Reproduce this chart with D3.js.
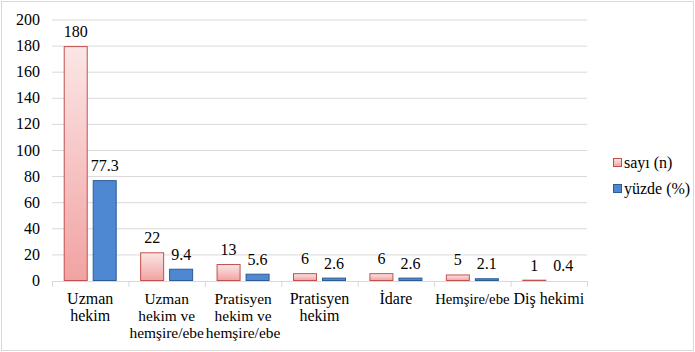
<!DOCTYPE html>
<html>
<head>
<meta charset="utf-8">
<script src="https://cdn.jsdelivr.net/npm/d3@7"></script>
</head>
<body style="margin:0">
<svg id="fig" width="695" height="352" font-family="Times New Roman" font-size="16"></svg>
<script>
// Categories (multi-line labels are split with "\n")
const categories = [
  "Uzman\nhekim",
  "Uzman\nhekim ve\nhemşire/ebe",
  "Pratisyen\nhekim ve\nhemşire/ebe",
  "Pratisyen\nhekim",
  "İdare",
  "Hemşire/ebe",
  "Diş hekimi"
];
const sayiValues = [180, 22, 13, 6, 6, 5, 1];
const yuzdeValues = [77.3, 9.4, 5.6, 2.6, 2.6, 2.1, 0.4];
const seriesNames = ["sayı (n)", "yüzde (%)"];
const yTicks = [0, 20, 40, 60, 80, 100, 120, 140, 160, 180, 200];

const svg = d3.select("#fig").style("display", "block");
const W = 695, H = 352;
const margin = { left: 52, top: 20 };
const plotRight = 587;

function styleText(sel) {
  return sel
    .attr("font-family", "Times New Roman")
    .attr("font-size", 16)
    .attr("fill", "#000");
}

// outer frame
svg.append("rect")
  .attr("x", 1.5).attr("y", 1.5)
  .attr("width", W - 3).attr("height", H - 3)
  .attr("fill", "#fff").attr("stroke", "#d9d9d9");

const defs = svg.append("defs");
const grad = defs.append("linearGradient")
  .attr("id", "pinkGrad").attr("x1", 0).attr("y1", 0).attr("x2", 0).attr("y2", 1);
grad.append("stop").attr("offset", "0%").attr("stop-color", "#fbe6e6");
grad.append("stop").attr("offset", "100%").attr("stop-color", "#f1a3a2");

const x = d3.scaleBand()
  .domain(d3.range(categories.length))
  .range([margin.left, plotRight]);
const y = d3.scaleLinear().domain([0, 200]).range([281, 20]);

// gridlines
svg.append("g").selectAll("line")
  .data(yTicks.filter(t => t > 0))
  .join("line")
  .attr("x1", margin.left).attr("x2", plotRight)
  .attr("y1", d => y(d)).attr("y2", d => y(d))
  .attr("stroke", "#d9d9d9").attr("stroke-width", 1);

// y tick labels
svg.append("g").selectAll("text")
  .data(yTicks)
  .join("text")
  .attr("x", 40).attr("y", d => y(d) + 5)
  .attr("text-anchor", "end")
  .call(styleText)
  .text(d => d);

// x baseline and category separators
svg.append("line")
  .attr("x1", margin.left).attr("x2", plotRight)
  .attr("y1", y(0) + 0.5).attr("y2", y(0) + 0.5)
  .attr("stroke", "#d9d9d9");
svg.append("g").selectAll("line")
  .data(d3.range(categories.length + 1))
  .join("line")
  .attr("x1", i => margin.left + i * x.bandwidth() + 0.5)
  .attr("x2", i => margin.left + i * x.bandwidth() + 0.5)
  .attr("y1", y(0)).attr("y2", y(0) + 6)
  .attr("stroke", "#d9d9d9");

const barW = 24, gap = 5;
const inner = d3.scaleBand().domain([0, 1]).range([0, barW * 2 + gap]).paddingInner(gap / (barW + gap));
const offset = (x.bandwidth() - (barW * 2 + gap)) / 2;

const bars = svg.append("g");
bars.selectAll("rect.sayi")
  .data(sayiValues)
  .join("rect")
  .attr("class", "sayi")
  .attr("x", (d, i) => x(i) + offset + inner(0) + 0.5)
  .attr("y", d => y(d) + 0.5)
  .attr("width", inner.bandwidth() - 1)
  .attr("height", d => Math.max(0, y(0) - y(d) - 1))
  .attr("fill", "url(#pinkGrad)")
  .attr("stroke", "#c0504d").attr("stroke-width", 1);

bars.selectAll("rect.yuzde")
  .data(yuzdeValues)
  .join("rect")
  .attr("class", "yuzde")
  .attr("x", (d, i) => x(i) + offset + inner(1) + 0.5)
  .attr("y", d => y(d) + 0.5)
  .attr("width", inner.bandwidth() - 1)
  .attr("height", d => Math.max(0, y(0) - y(d) - 1))
  .attr("fill", "#4f88d2")
  .attr("stroke", "#2d5b96").attr("stroke-width", 1);

// value labels
svg.append("g").selectAll("text")
  .data(sayiValues)
  .join("text")
  .attr("x", (d, i) => x(i) + offset + inner(0) + inner.bandwidth() / 2)
  .attr("y", d => y(d) - 9)
  .attr("text-anchor", "middle")
  .call(styleText)
  .text(d => d);
svg.append("g").selectAll("text")
  .data(yuzdeValues)
  .join("text")
  .attr("x", (d, i) => x(i) + offset + inner(1) + inner.bandwidth() / 2)
  .attr("y", d => y(d) - 9)
  .attr("text-anchor", "middle")
  .call(styleText)
  .text(d => d.toFixed(1));

// category labels
const catG = svg.append("g");
categories.forEach((c, i) => {
  const t = catG.append("text")
    .attr("x", x(i) + x.bandwidth() / 2)
    .attr("y", 304)
    .attr("text-anchor", "middle")
    .call(styleText);
  c.split("\n").forEach((line, j) => {
    t.append("tspan")
      .attr("x", x(i) + x.bandwidth() / 2)
      .attr("dy", j === 0 ? 0 : 17)
      .text(line);
  });
});

// keep each category label within its band: shrink the text if a line is too wide
catG.selectAll("text").each(function () {
  const t = d3.select(this);
  let widest = 0;
  t.selectAll("tspan").each(function () {
    widest = Math.max(widest, this.getComputedTextLength());
  });
  const room = x.bandwidth() - 2;
  if (widest > room) {
    t.attr("font-size", (16 * room / widest).toFixed(2));
  }
});

// legend
const legend = svg.append("g");
const legendFills = ["url(#pinkGrad)", "#4f88d2"];
const legendStrokes = ["#c0504d", "#2d5b96"];
seriesNames.forEach((name, i) => {
  const ly = 163 + i * 26;
  legend.append("rect")
    .attr("x", 613.5).attr("y", ly - 4.5)
    .attr("width", 8).attr("height", 8)
    .attr("fill", legendFills[i]).attr("stroke", legendStrokes[i]);
  legend.append("text")
    .attr("x", 624).attr("y", ly + 5)
    .call(styleText)
    .text(name);
});
</script>
</body>
</html>
